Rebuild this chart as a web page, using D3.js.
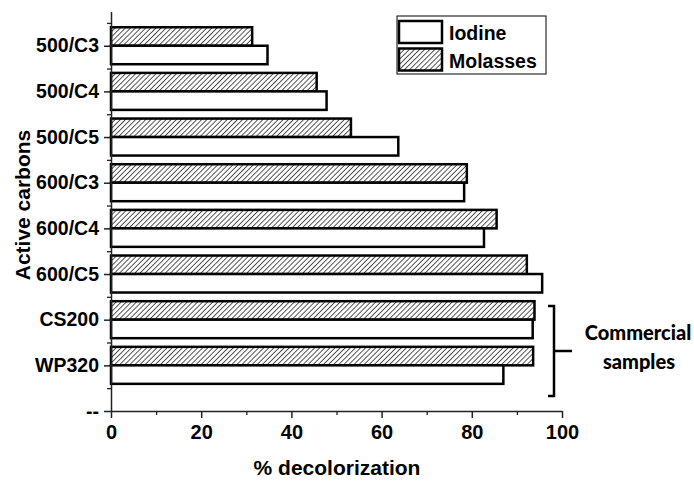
<!DOCTYPE html>
<html lang="en">
<head>
  <meta charset="UTF-8">
  <title>Decolorization</title>
  <style>
    body { margin: 0; background: #fff; }
    text { font-family: 'Liberation Sans', Arial, sans-serif; font-weight: bold; fill: #000; }
  </style>
</head>
<body>
  <svg id="svg" width="694" height="481"></svg>

  <script src="https://d3js.org/d3.v7.min.js"></script>
  <script>
    // data (top to bottom)
    const categories = ['500/C3', '500/C4', '500/C5', '600/C3', '600/C4', '600/C5', 'CS200', 'WP320']
    const iodine = [34.7, 47.8, 63.7, 78.3, 82.7, 95.6, 93.5, 87.0]
    const molasses = [31.3, 45.6, 53.2, 78.9, 85.5, 92.2, 93.9, 93.6]
    const xTicks = [0, 20, 40, 60, 80, 100]
    const seriesNames = ['Iodine', 'Molasses']

    const svg = d3.select('#svg')

    // position of each category on the y axis: '--' at 0, WP320 at 1 ... 500/C3 at 8
    const pos = categories.map((c, i) => categories.length - i)
    const yLabels = { 0: '--' }
    categories.forEach((c, i) => { yLabels[pos[i]] = c })

    // ------ SCALES ------------------------
    const xscale = d3.scaleLinear().domain([0, 100]).range([111, 562])
    const yscale = d3.scaleLinear().domain([0, 8.75]).range([411, 11.5])
    const barH = 0.405

    // hatch pattern for molasses
    const defs = svg.append('defs')
    const pat = defs.append('pattern')
      .attr('id', 'hatch')
      .attr('patternUnits', 'userSpaceOnUse')
      .attr('width', 3.6).attr('height', 3.6)
      .attr('patternTransform', 'rotate(45)')
    pat.append('rect').attr('width', 3.6).attr('height', 3.6).attr('fill', '#fff')
    pat.append('line')
      .attr('x1', 0).attr('y1', 0).attr('x2', 0).attr('y2', 3.6)
      .attr('stroke', '#222').attr('stroke-width', 1.5)

    // ------ BARS ------------------------
    const rows = categories.map((c, i) => ({ name: c, p: pos[i], iodine: iodine[i], molasses: molasses[i] }))

    svg.append('g').selectAll('rect')
      .data(rows)
      .enter()
      .append('rect')
      .attr('x', xscale(0))
      .attr('y', d => yscale(d.p + barH))
      .attr('width', d => xscale(d.molasses) - xscale(0))
      .attr('height', d => yscale(d.p) - yscale(d.p + barH))
      .attr('fill', 'url(#hatch)')
      .attr('stroke', '#000')
      .attr('stroke-width', 2.5)

    svg.append('g').selectAll('rect')
      .data(rows)
      .enter()
      .append('rect')
      .attr('x', xscale(0))
      .attr('y', d => yscale(d.p))
      .attr('width', d => xscale(d.iodine) - xscale(0))
      .attr('height', d => yscale(d.p - barH) - yscale(d.p))
      .attr('fill', '#fff')
      .attr('stroke', '#000')
      .attr('stroke-width', 2.5)

    // ------ AXES ------------------------
    const axisColor = '#222'

    // minor ticks first
    svg.append('g')
      .attr('transform', `translate(0, ${yscale(0)})`)
      .call(d3.axisBottom(xscale).tickValues([10, 30, 50, 70, 90]).tickSize(4).tickFormat(''))
      .call(g => g.select('.domain').remove())
      .call(g => g.selectAll('line').attr('stroke', axisColor).attr('stroke-width', 1.3))

    svg.append('g')
      .attr('transform', `translate(0, ${yscale(0)})`)
      .call(d3.axisBottom(xscale).tickValues(xTicks).tickSize(7).tickSizeOuter(0))
      .call(g => g.select('.domain').attr('stroke', axisColor).attr('stroke-width', 1.5))
      .call(g => g.selectAll('line').attr('stroke', axisColor).attr('stroke-width', 1.5))
      .call(g => g.selectAll('text')
        .attr('dy', '0.71em').attr('y', 14)
        .style('font-size', '20px').style('font-weight', 'bold'))

    const minorY = d3.range(0.5, 9, 1)
    svg.append('g')
      .attr('transform', `translate(${xscale(0)}, 0)`)
      .call(d3.axisLeft(yscale).tickValues(minorY).tickSize(4).tickFormat(''))
      .call(g => g.select('.domain').remove())
      .call(g => g.selectAll('line').attr('stroke', axisColor).attr('stroke-width', 1.3))

    svg.append('g')
      .attr('transform', `translate(${xscale(0)}, 0)`)
      .call(d3.axisLeft(yscale)
        .tickValues(d3.range(0, 9))
        .tickFormat(d => yLabels[d])
        .tickSize(7).tickSizeOuter(0))
      .call(g => g.select('.domain').attr('stroke', axisColor).attr('stroke-width', 1.5))
      .call(g => g.selectAll('line').attr('stroke', axisColor).attr('stroke-width', 1.5))
      .call(g => g.selectAll('text')
        .attr('x', -12)
        .style('font-size', '19.5px').style('font-weight', 'bold'))

    // axis titles
    svg.append('text')
      .attr('x', 337)
      .attr('y', 475)
      .attr('text-anchor', 'middle')
      .style('font-size', '21px')
      .text('% decolorization')

    svg.append('text')
      .attr('transform', 'translate(30, 205) rotate(-90)')
      .attr('text-anchor', 'middle')
      .style('font-size', '21px')
      .text('Active carbons')

    // ------ LEGEND ------------------------
    const legend = svg.append('g')
    legend.append('rect')
      .attr('x', 397).attr('y', 16)
      .attr('width', 149).attr('height', 58)
      .attr('fill', '#fff').attr('stroke', '#000').attr('stroke-width', 1)

    const fills = ['#fff', 'url(#hatch)']
    legend.selectAll('.sw')
      .data(seriesNames)
      .enter()
      .append('rect')
      .attr('class', 'sw')
      .attr('x', 399)
      .attr('y', (d, i) => 21 + i * 27.5)
      .attr('width', 43)
      .attr('height', 22)
      .attr('fill', (d, i) => fills[i])
      .attr('stroke', '#000')
      .attr('stroke-width', 2.5)

    legend.selectAll('.lt')
      .data(seriesNames)
      .enter()
      .append('text')
      .attr('class', 'lt')
      .attr('x', 449)
      .attr('y', (d, i) => 40 + i * 27.5)
      .style('font-size', '19.5px')
      .text(d => d)

    // ------ BRACKET ------------------------
    const bracket = svg.append('g')
    const bTop = 306
    const bBot = 396
    const bx = 554
    bracket.append('path')
      .attr('d', `M${bx - 6},${bTop} H${bx} V${bBot} H${bx - 6}`)
      .attr('fill', 'none').attr('stroke', '#000').attr('stroke-width', 2.5)
    bracket.append('line')
      .attr('x1', bx).attr('x2', bx + 18)
      .attr('y1', (bTop + bBot) / 2).attr('y2', (bTop + bBot) / 2)
      .attr('stroke', '#000').attr('stroke-width', 2.5)

    bracket.append('text')
      .attr('x', 638).attr('y', 340)
      .attr('text-anchor', 'middle')
      .style('font-family', 'Lato, sans-serif')
      .style('font-weight', '900')
      .style('font-size', '20px')
      .text('Commercial')
    bracket.append('text')
      .attr('x', 639).attr('y', 369)
      .attr('text-anchor', 'middle')
      .style('font-family', 'Lato, sans-serif')
      .style('font-weight', '900')
      .style('font-size', '20px')
      .text('samples')
  </script>
</body>
</html>
